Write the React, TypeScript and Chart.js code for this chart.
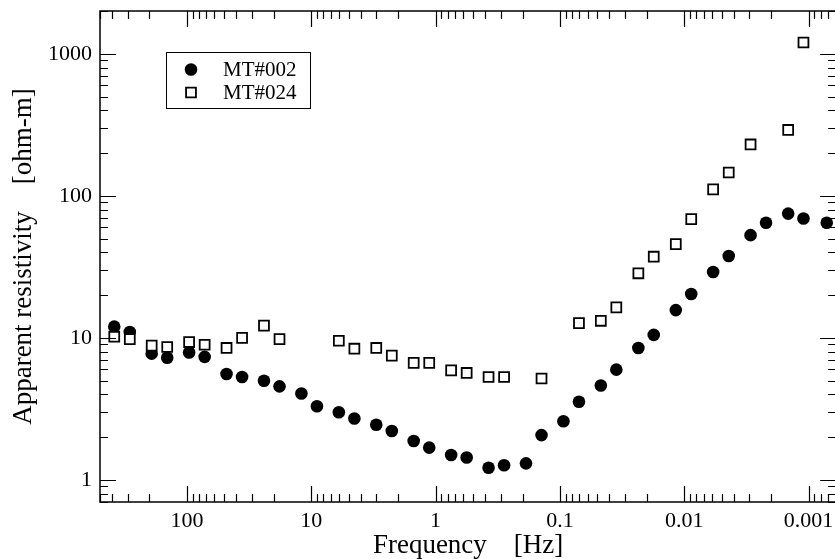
import React, { useEffect, useRef } from 'react';
import { Chart, registerables } from 'chart.js';

Chart.register(...registerables);

// ---- Data ----
const seriesLabels = ['MT#002', 'MT#024'];

const freq002 = [
  384, 288, 192, 144, 96, 72, 48, 36, 24, 18, 12, 9, 6, 4.5, 3, 2.25, 1.5, 1.125,
  0.75, 0.5625, 0.375, 0.28125, 0.1875, 0.140625, 0.09375, 0.0703, 0.0469, 0.0352,
  0.0234, 0.0176, 0.0117, 0.00879, 0.00586, 0.00439, 0.00293, 0.0022, 0.00146,
  0.0011, 0.000715,
];
const rho002 = [
  12.0, 11.0, 7.75, 7.26, 7.9, 7.35, 5.57, 5.31, 5.0, 4.56, 4.06, 3.3, 3.0, 2.71,
  2.45, 2.21, 1.88, 1.69, 1.5, 1.44, 1.22, 1.27, 1.31, 2.07, 2.59, 3.55, 4.62, 5.98,
  8.5, 10.5, 15.7, 20.4, 29.1, 37.7, 52.9, 64.6, 75, 69.2, 64.6,
];

const freq024 = [
  384, 288, 192, 144, 96, 72, 48, 36, 24, 18, 6, 4.5, 3, 2.25, 1.5, 1.125, 0.75,
  0.5625, 0.375, 0.28125, 0.140625, 0.0703, 0.0469, 0.0352, 0.0234, 0.0176, 0.0117,
  0.00879, 0.00586, 0.00439, 0.00293, 0.00146, 0.0011,
];
const rho024 = [
  10.2, 9.8, 8.82, 8.63, 9.35, 8.95, 8.5, 10.0, 12.2, 9.8, 9.55, 8.4, 8.5, 7.5,
  6.67, 6.67, 5.91, 5.67, 5.31, 5.31, 5.18, 12.7, 13.2, 16.4, 28.5, 37.3, 45.7,
  68.6, 111, 146, 230, 291, 1200,
];

const xTickValues = [100, 10, 1, 0.1, 0.01, 0.001];
const xTickLabels = ['100', '10', '1', '0.1', '0.01', '0.001'];
const yTickValues = [1, 10, 100, 1000];
const yTickLabels = ['1', '10', '100', '1000'];
const xRange = [0.0006, 500];
const yRange = [0.7, 2000];
const xTitle = 'Frequency    [Hz]';
const yTitle = 'Apparent resistivity    [ohm-m]';

const FONT = '"Liberation Serif", "Times New Roman", Times, serif';

function logMinorValues(min: number, max: number): { v: number; major: boolean }[] {
  const out: { v: number; major: boolean }[] = [];
  const d0 = Math.floor(Math.log10(min));
  const d1 = Math.ceil(Math.log10(max));
  for (let d = d0; d <= d1; d++) {
    for (let k = 1; k <= 9; k++) {
      const v = k * Math.pow(10, d);
      if (v >= min * 0.9999 && v <= max * 1.0001) out.push({ v, major: k === 1 });
    }
  }
  return out;
}

const frameTicksPlugin = {
  id: 'frameTicks',
  afterDatasetsDraw(chart: any) {
    const { ctx, chartArea: a, scales } = chart;
    const xs = scales.x;
    const ys = scales.y;
    const MAJ = 16;
    const MIN = 8;
    ctx.save();
    ctx.strokeStyle = '#000';
    ctx.lineWidth = 1.2;
    ctx.beginPath();
    for (const t of logMinorValues(xs.min, xs.max)) {
      const px = Math.round(xs.getPixelForValue(t.v)) + 0.5;
      const len = t.major ? MAJ : MIN;
      ctx.moveTo(px, a.bottom);
      ctx.lineTo(px, a.bottom - len);
      ctx.moveTo(px, a.top);
      ctx.lineTo(px, a.top + len);
    }
    for (const t of logMinorValues(ys.min, ys.max)) {
      const py = Math.round(ys.getPixelForValue(t.v)) + 0.5;
      const len = t.major ? MAJ : MIN;
      ctx.moveTo(a.left, py);
      ctx.lineTo(a.left + len, py);
      ctx.moveTo(a.right, py);
      ctx.lineTo(a.right - len, py);
    }
    ctx.stroke();
    ctx.lineWidth = 1.5;
    ctx.strokeRect(a.left, a.top, a.right - a.left, a.bottom - a.top);
    ctx.restore();
  },
};

const legendBoxPlugin = {
  id: 'legendBox',
  afterDraw(chart: any) {
    const { ctx, chartArea: a } = chart;
    const bx = a.left + 66;
    const by = a.top + 41;
    const bw = 144;
    const bh = 56;
    ctx.save();
    ctx.fillStyle = '#fff';
    ctx.fillRect(bx, by, bw, bh);
    ctx.strokeStyle = '#000';
    ctx.lineWidth = 1;
    ctx.strokeRect(bx + 0.5, by + 0.5, bw, bh);
    const rows = [by + 17.5, by + 40.5];
    chart.data.datasets.forEach((ds: any, i: number) => {
      const cy = rows[i];
      const cx = bx + 25;
      const r = ds.pointRadius;
      ctx.beginPath();
      if (ds.pointStyle === 'rect') {
        const s = Math.SQRT1_2 * r;
        ctx.rect(cx - s, cy - s, 2 * s, 2 * s);
      } else {
        ctx.arc(cx, cy, r, 0, Math.PI * 2);
      }
      ctx.fillStyle = ds.backgroundColor;
      ctx.fill();
      if (ds.borderWidth > 0) {
        ctx.lineWidth = ds.borderWidth;
        ctx.strokeStyle = ds.borderColor;
        ctx.stroke();
      }
      ctx.fillStyle = '#000';
      ctx.font = `21px ${FONT}`;
      ctx.textBaseline = 'middle';
      ctx.textAlign = 'left';
      ctx.fillText(ds.label, bx + 57, cy + 1);
    });
    ctx.restore();
  },
};

export default function App() {
  const canvasRef = useRef<HTMLCanvasElement | null>(null);

  useEffect(() => {
    const canvas = canvasRef.current;
    if (!canvas) return;
    const chart = new Chart(canvas, {
      type: 'scatter',
      data: {
        datasets: [
          {
            label: seriesLabels[0],
            data: freq002.map((f, i) => ({ x: f, y: rho002[i] })),
            pointStyle: 'circle',
            pointRadius: 6.3,
            pointHoverRadius: 6.3,
            backgroundColor: '#000',
            borderColor: '#000',
            borderWidth: 0,
            showLine: false,
            order: 1,
          },
          {
            label: seriesLabels[1],
            data: freq024.map((f, i) => ({ x: f, y: rho024[i] })),
            pointStyle: 'rect',
            pointRadius: 7,
            pointHoverRadius: 7,
            backgroundColor: '#fff',
            borderColor: '#000',
            borderWidth: 1.8,
            showLine: false,
            order: 0,
          },
        ],
      },
      options: {
        animation: false,
        responsive: false,
        devicePixelRatio: 1,
        events: [],
        layout: { padding: { top: 11, right: 6, left: 0, bottom: 0 } },
        plugins: {
          legend: { display: false },
          tooltip: { enabled: false },
        },
        scales: {
          x: {
            type: 'logarithmic',
            reverse: true,
            min: xRange[0],
            max: xRange[1],
            grid: { display: false, drawTicks: false },
            border: { display: false },
            afterBuildTicks: (scale: any) => {
              scale.ticks = xTickValues.map((v) => ({ value: v, major: true }));
            },
            afterFit: (scale: any) => {
              scale.height = 57;
              scale.paddingLeft = 0;
              scale.paddingRight = 0;
            },
            ticks: {
              color: '#000',
              padding: 8,
              maxRotation: 0,
              autoSkip: false,
              font: { family: FONT, size: 22, lineHeight: 1 },
              callback: (value: any) => {
                const i = xTickValues.findIndex((v) => Math.abs(v - Number(value)) < v * 1e-6);
                return i >= 0 ? xTickLabels[i] : '';
              },
            },
            title: {
              display: true,
              text: xTitle,
              color: '#000',
              padding: 0,
              font: { family: FONT, size: 27, lineHeight: 1 },
            },
          },
          y: {
            type: 'logarithmic',
            min: yRange[0],
            max: yRange[1],
            grid: { display: false, drawTicks: false },
            border: { display: false },
            afterBuildTicks: (scale: any) => {
              scale.ticks = yTickValues.map((v) => ({ value: v, major: true }));
            },
            afterFit: (scale: any) => {
              scale.width = 100;
              scale.paddingTop = 0;
              scale.paddingBottom = 0;
            },
            ticks: {
              color: '#000',
              padding: 8,
              autoSkip: false,
              font: { family: FONT, size: 22, lineHeight: 1 },
              callback: (value: any) => {
                const i = yTickValues.findIndex((v) => Math.abs(v - Number(value)) < v * 1e-6);
                return i >= 0 ? yTickLabels[i] : '';
              },
            },
            title: {
              display: true,
              text: yTitle,
              color: '#000',
              padding: { top: 10.5, bottom: 0 },
              font: { family: FONT, size: 27, lineHeight: 1 },
            },
          },
        },
      },
      plugins: [frameTicksPlugin, legendBoxPlugin],
    } as any);
    return () => chart.destroy();
  }, []);

  return (
    <div
      style={{
        position: 'fixed',
        left: 0,
        top: 0,
        width: 835,
        height: 559,
        overflow: 'hidden',
        background: '#fff',
      }}
    >
      <canvas
        ref={canvasRef}
        width={845}
        height={559}
        style={{ display: 'block', width: 845, height: 559 }}
      />
    </div>
  );
}
